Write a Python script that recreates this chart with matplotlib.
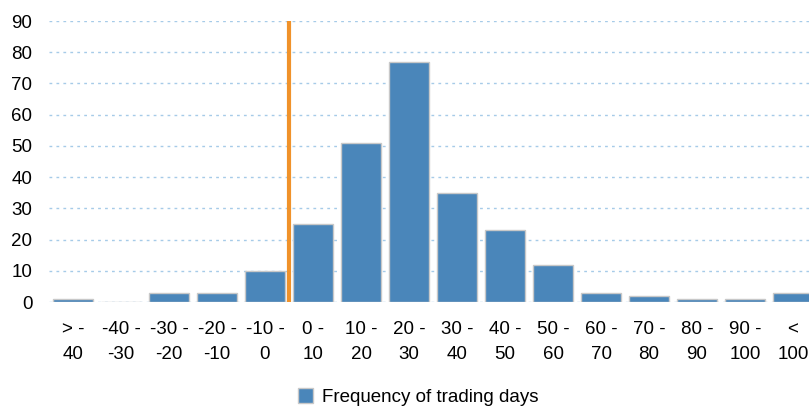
import matplotlib
matplotlib.use("Agg")
import matplotlib.pyplot as plt
from matplotlib.patches import Patch

categories = ["> -\n40", "-40 -\n-30", "-30 -\n-20", "-20 -\n-10", "-10 -\n0", "0 -\n10",
              "10 -\n20", "20 -\n30", "30 -\n40", "40 -\n50", "50 -\n60", "60 -\n70",
              "70 -\n80", "80 -\n90", "90 -\n100", "<\n100"]
frequency = [1, 0, 3, 3, 10, 25, 51, 77, 35, 23, 12, 3, 2, 1, 1, 3]
yticks = [0, 10, 20, 30, 40, 50, 60, 70, 80, 90]
marker_pos = 4.5

plt.rcParams['font.family'] = ['Liberation Sans', 'DejaVu Sans']

W, H = 809, 411
fig = plt.figure(figsize=(W/100, H/100), dpi=100)
left, right, top, bottom = 49, 809, 21, 302
ax = fig.add_axes([left/W, 1 - bottom/H, (right-left)/W, (bottom-top)/H])

x = list(range(len(categories)))
ax.bar(x, frequency, width=0.83, color="#4A86BA", edgecolor="#C8C8C8", linewidth=1.0,
       zorder=3, label="Frequency of trading days")
ax.plot([marker_pos, marker_pos], [0, 90], color="#F0922A", linewidth=3, zorder=4,
        solid_capstyle="butt")

ax.set_xlim(-0.5, 15.5 - 8/48)
ax.set_ylim(0, 90)
ax.set_yticks(yticks)
ax.set_xticks(x)
ax.set_xticklabels(categories, fontsize=13.5, linespacing=1.6)
ax.tick_params(axis='y', labelsize=13.5, length=0, pad=12)
ax.tick_params(axis='x', length=0, pad=14)
ax.grid(axis='y', color="#A6CBE8", linestyle=(0, (2, 3)), linewidth=1, zorder=0)
for s in ax.spines.values():
    s.set_visible(False)

handle = Patch(facecolor="#4A86BA", edgecolor="#C8C8C8", label="Frequency of trading days")
fig.legend(handles=[handle], loc="center", bbox_to_anchor=(418/W, 1 - 397/H), frameon=False,
           fontsize=13.5, handlelength=0.8, handleheight=0.8, handletextpad=0.5)

fig.savefig("out.png", dpi=100)
